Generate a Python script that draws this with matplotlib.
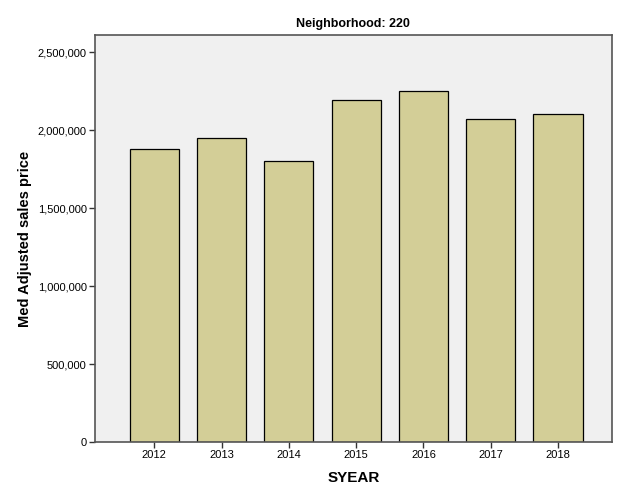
import matplotlib
matplotlib.use('Agg')
import matplotlib.pyplot as plt
from matplotlib.ticker import FuncFormatter

years = ['2012', '2013', '2014', '2015', '2016', '2017', '2018']
med_price = [1882000, 1951000, 1803000, 2193000, 2254000, 2074000, 2102000]

plt.rcParams['font.family'] = ['Liberation Sans', 'DejaVu Sans']

fig = plt.figure(figsize=(6.25, 5), dpi=100)
ax = fig.add_axes([0.152, 0.116, 0.827, 0.814])
ax.set_facecolor('#f0f0f0')

x = range(len(years))
ax.bar(x, med_price, width=0.73, color='#d3ce97', edgecolor='black', linewidth=0.9, zorder=2)

ax.set_xlim(-0.88, 6.8)
ax.set_ylim(0, 2610000)
ax.set_xticks(list(x))
ax.set_xticklabels(years)
ax.set_yticks([0, 500000, 1000000, 1500000, 2000000, 2500000])
ax.yaxis.set_major_formatter(FuncFormatter(lambda v, p: f'{int(v):,}'))
ax.tick_params(axis='both', labelsize=8, length=4, width=1, color='#333333', pad=2)

for s in ax.spines.values():
    s.set_color('#555555')
    s.set_linewidth(1.2)

ax.set_title('Neighborhood: 220', fontsize=9, fontweight='bold', pad=6)
ax.set_xlabel('SYEAR', fontsize=11, fontweight='bold', labelpad=8)
ax.set_ylabel('Med Adjusted sales price', fontsize=10.5, fontweight='bold', labelpad=4)

plt.savefig('out.png', dpi=100)
